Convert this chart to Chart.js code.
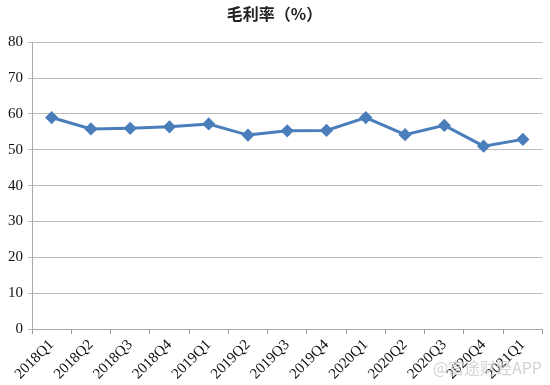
<!DOCTYPE html>
<html>
<head>
<meta charset="utf-8">
<script src="https://cdn.jsdelivr.net/npm/chart.js@4/dist/chart.umd.min.js"></script>
<style>
  html, body { margin: 0; padding: 0; background: #fff; }
  #wrap { position: relative; width: 550px; height: 385px; }
  #mark { position: absolute; right: 8px; bottom: 6px; font: 16px "Noto Sans CJK SC", sans-serif; color: rgba(200,200,200,0.8); }
</style>
</head>
<body>
<div id="wrap">
  <canvas id="chart" width="550" height="385"></canvas>
  <div id="mark">@富途财经APP</div>
</div>
<script>
// quarters and gross margin (%)
const quarters = ['2018Q1', '2018Q2', '2018Q3', '2018Q4', '2019Q1', '2019Q2', '2019Q3',
    '2019Q4', '2020Q1', '2020Q2', '2020Q3', '2020Q4', '2021Q1'];
const margin = [59.0, 55.8, 56.0, 56.4, 57.2, 54.1, 55.3, 55.4, 59.0, 54.2, 56.8, 51.0, 52.9];
const yTicks = [0, 10, 20, 30, 40, 50, 60, 70, 80];

const serif = '"Liberation Serif", "Times New Roman", serif';

new Chart(document.getElementById('chart'), {
    type: 'line',
    data: {
        labels: quarters,
        datasets: [{
            data: margin,
            borderColor: '#4A7EBB',
            backgroundColor: '#4A7EBB',
            borderWidth: 3,
            pointStyle: 'rectRot',
            pointRadius: 4.5,
            tension: 0
        }]
    },
    options: {
        responsive: false,
        animation: false,
        layout: { padding: { left: 3, right: 4, top: 0, bottom: 0 } },
        plugins: {
            legend: { display: false },
            tooltip: { enabled: false },
            title: {
                display: true,
                text: '毛利率（%）',
                color: '#222',
                font: { family: '"Noto Sans CJK SC", sans-serif', size: 16, weight: 'bold' },
                padding: { top: 4, bottom: 19 }
            }
        },
        scales: {
            x: {
                offset: true,
                grid: { offset: true, drawOnChartArea: false, tickLength: 5, color: '#999' },
                border: { color: '#aaa' },
                ticks: {
                    minRotation: 45, maxRotation: 45,
                    color: '#111', padding: 2,
                    font: { family: serif, size: 15 }
                }
            },
            y: {
                min: 0, max: 80,
                afterBuildTicks: axis => { axis.ticks = yTicks.map(v => ({ value: v })); },
                grid: { color: '#bbb', tickLength: 4 },
                border: { color: '#aaa' },
                ticks: {
                    color: '#111', padding: 5,
                    font: { family: serif, size: 15 }
                }
            }
        }
    }
});
</script>
</body>
</html>
